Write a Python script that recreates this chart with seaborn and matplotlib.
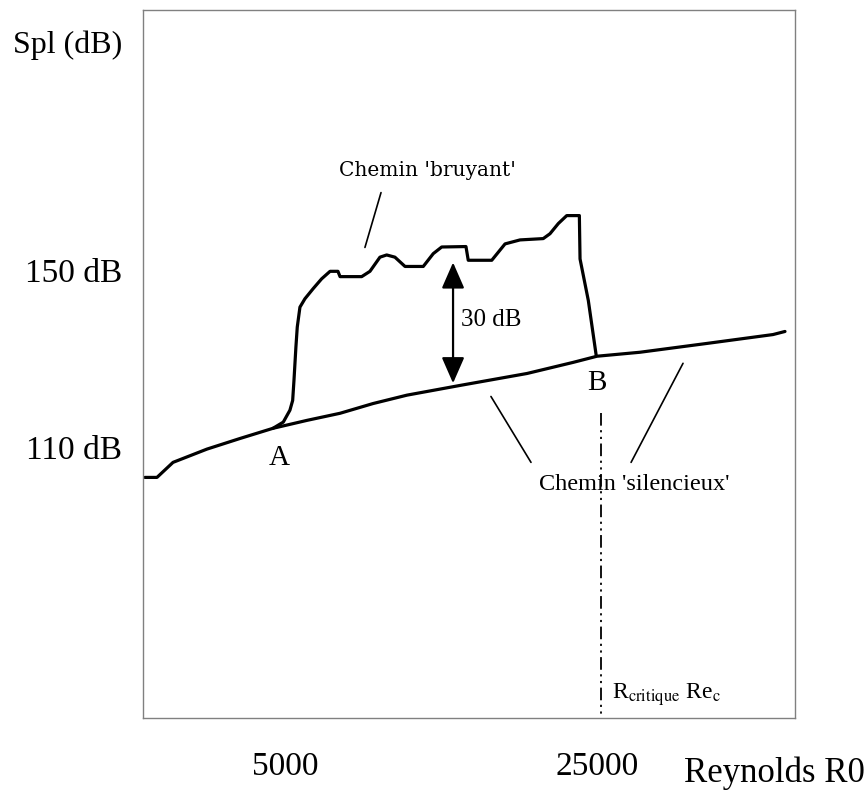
import numpy as np
import pandas as pd
import matplotlib
matplotlib.use("Agg")
import matplotlib.pyplot as plt
import seaborn as sns

# 'silencieux' path (lower curve): Reynolds number vs SPL in dB
quiet_re = [2428, 2584, 2807, 3344, 3965, 4700, 5603, 6643, 7875, 9383,
            12340, 17430, 22090, 25000, 31210, 44120, 61980, 65940]
quiet_db = [103.2, 103.2, 106.6, 109.6, 112.0, 114.3, 116.1, 117.7, 119.9, 121.8,
            124.0, 126.7, 129.2, 130.6, 131.5, 133.5, 135.5, 136.2]

# 'bruyant' path (upper curve), from A to B
noisy_re = [4700, 4957, 5130, 5203, 5238, 5291, 5328, 5402, 5543, 5785, 6041, 6310,
            6572, 6643, 7428, 7752, 8162, 8450, 8817, 9289, 10205, 10745, 11223,
            12720, 12870, 14530, 15560, 16810, 18950, 19620, 20480, 21390, 22830,
            22910, 23910, 24900]
noisy_db = [114.3, 115.7, 118.4, 120.6, 125.1, 132.7, 137.2, 141.7, 143.6, 145.9, 148.1, 149.8,
            149.8, 148.6, 148.6, 149.8, 153.0, 153.5, 153.0, 150.9, 150.9, 153.8, 155.3,
            155.4, 152.3, 152.3, 156.0, 156.9, 157.2, 158.3, 160.6, 162.4, 162.4,
            152.6, 143.2, 130.8]

x_ticks = [5000, 25000]
x_tick_labels = ["5000", "25000"]
y_ticks = [110, 150]
y_tick_labels = ["110 dB", "150 dB"]

re_critical = 25500
gap_re = 11900
gap_db = [124.5, 151.8]

sns.set_theme(style="white")
plt.rcParams['font.family'] = ['Liberation Serif', 'DejaVu Serif']
plt.rcParams['mathtext.fontset'] = 'stix'
plt.rcParams['text.color'] = 'black'
plt.rcParams['xtick.color'] = 'black'
plt.rcParams['ytick.color'] = 'black'

fig = plt.figure(figsize=(8.66, 7.96), dpi=100)
ax = fig.add_axes([0.1651, 0.098, 0.7529, 0.8895])

quiet = pd.DataFrame({"re": quiet_re, "db": quiet_db})
noisy = pd.DataFrame({"re": noisy_re, "db": noisy_db})
sns.lineplot(data=quiet, x="re", y="db", ax=ax, color="black", lw=2.3,
             sort=False, estimator=None)
sns.lineplot(data=noisy, x="re", y="db", ax=ax, color="black", lw=2.3,
             sort=False, estimator=None)

ax.set_xscale("log")
ax.set_xlim(2404, 69430)
ax.set_ylim(48.8, 208.9)
ax.set_xticks(x_ticks)
ax.set_xticklabels(x_tick_labels, fontsize=24, color="black")
ax.minorticks_off()
ax.set_yticks(y_ticks)
ax.set_yticklabels(y_tick_labels, fontsize=24, color="black")
ax.tick_params(axis="x", length=0, pad=24)
ax.tick_params(axis="y", length=0, pad=15)
ax.set_xlabel("")
ax.set_ylabel("")
for s in ax.spines.values():
    s.set_color("#808080")
    s.set_linewidth(1.0)

# 30 dB gap arrow
ax.annotate("", xy=(gap_re, gap_db[1]), xytext=(gap_re, gap_db[0]),
            arrowprops=dict(arrowstyle="<|-|>,head_length=0.8,head_width=0.35",
                            mutation_scale=20, color="black", lw=1.6,
                            shrinkA=0, shrinkB=0))
ax.text(12400, 138.9, "30 dB", fontsize=18, ha="left", va="center")

# point labels
ax.text(4850, 107.5, "A", fontsize=21, ha="center", va="center")
ax.text(25000, 124.5, "B", fontsize=21, ha="center", va="center")

# path labels with pointer lines
ax.text(10450, 172.6, "Chemin 'bruyant'", fontsize=14.5, ha="center", va="center",
        family="DejaVu Serif")
ax.plot([8207, 7554], [167.6, 155.2], color="black", lw=1.2)
ax.text(30260, 101.6, "Chemin 'silencieux'", fontsize=17.5, ha="center", va="center")
ax.plot([14470, 17790], [121.5, 106.6], color="black", lw=1.2)
ax.plot([38970, 29810], [129.0, 106.6], color="black", lw=1.2)

# critical Reynolds line
ax.plot([re_critical, re_critical], [117.7, 48.8], color="black", lw=1.3,
        dashes=(7, 2.5, 1.2, 2.5, 1.2, 2.5))
ax.text(27010, 54.0, r"R$_{\mathrm{critique}}$ Re$_{\mathrm{c}}$", fontsize=17,
        ha="left", va="center")

fig.text(68 / 866, 1 - 45 / 796, "Spl (dB)", fontsize=23, ha="center", va="center")
fig.text(865 / 866, 1 - 773 / 796, "Reynolds R0", fontsize=25, ha="right", va="center")

fig.savefig("out.png", dpi=100, facecolor="white")
